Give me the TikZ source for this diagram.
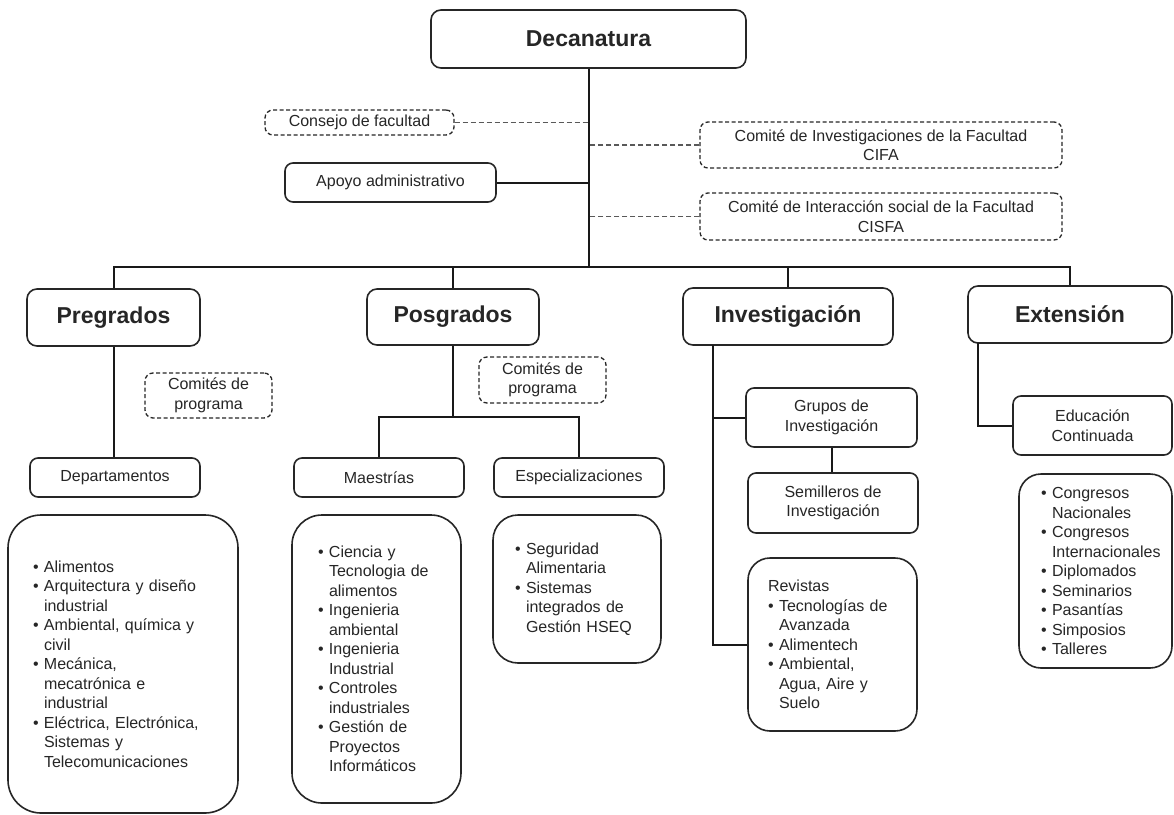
\documentclass[tikz,border=0pt]{standalone}
\usepackage{fontspec}
\setmainfont{Liberation Sans}
\tikzset{
  unitbox/.style={draw=black!85, line width=1.6pt, rounded corners=8pt, fill=white,
    align=center, inner sep=0pt, text=black!85, font=\fontsize{16}{19.5}\selectfont},
  titlebox/.style={unitbox, rounded corners=10pt, font=\fontsize{23}{27}\selectfont\bfseries},
  dashbox/.style={unitbox, line width=1.3pt, dash pattern=on 4pt off 2.5pt},
  listbox/.style={unitbox, rounded corners=25pt, align=left},
  link/.style={line width=2pt, black!90},
  dashline/.style={line width=1.3pt, black!65, dash pattern=on 5pt off 3pt},
}
\newcommand{\bu}{\makebox[11pt][l]{\textbullet}}
\newcommand{\ct}{\hspace*{11pt}}

\begin{document}
\begin{tikzpicture}[x=1pt,y=-1pt]
  \useasboundingbox (0,0) rectangle (1174,814);
  % top level
  \node[titlebox, minimum width=315, minimum height=58] (deca) at (588.5,39) {Decanatura};
  \node[dashbox, minimum width=189, minimum height=25] (consejo) at (359.5,122.5) {Consejo de facultad};
  \node[unitbox, minimum width=211, minimum height=39] (apoyo) at (390.5,182.5) {Apoyo administrativo};
  \node[dashbox, minimum width=362, minimum height=46] (cifa) at (881,145)
    {Comité de Investigaciones de la Facultad\\CIFA};
  \node[dashbox, minimum width=362, minimum height=47] (cisfa) at (881,216.5)
    {Comité de Interacción social de la Facultad\\CISFA};
  \coordinate (bus) at (588.5,267);
  \draw[link] (deca.south) -- (bus);
  \draw[dashline] (consejo.east) -- (consejo.east -| deca.south);
  \draw[link] (apoyo.east) -- (apoyo.east -| deca.south);
  \draw[dashline] (cifa.west) -- (cifa.west -| deca.south);
  \draw[dashline] (cisfa.west) -- (cisfa.west -| deca.south);

  % the four areas
  \node[titlebox, minimum width=173, minimum height=57] (pre) at (113.5,317.5) {Pregrados};
  \node[titlebox, minimum width=172, minimum height=56] (pos) at (453,317) {Posgrados};
  \node[titlebox, minimum width=210, minimum height=57] (inv) at (788,316.5) {Investigación};
  \node[titlebox, minimum width=204, minimum height=57] (ext) at (1070,314.5) {Extensión};
  \draw[link] (pre.north) |- (bus) -| (ext.north);
  \draw[link] (pos.north) -- (pos.north |- bus);
  \draw[link] (inv.north) -- (inv.north |- bus);

  % Pregrados
  \node[dashbox, minimum width=127, minimum height=45] (compre) at (208.5,395.5) {Comités de\\programa};
  \node[unitbox, minimum width=170, minimum height=39] (dep) at (115,477.5) {Departamentos};
  \draw[link] (pre.south) -- (pre.south |- dep.north);
  \node[listbox, rounded corners=33pt, minimum height=298, inner xsep=25, text width=180]
    (lpre) at (123,664) {\bu Alimentos\\
    \bu Arquitectura y diseño\\ \ct industrial\\
    \bu Ambiental, química y\\ \ct civil\\
    \bu Mecánica,\\ \ct mecatrónica e\\ \ct industrial\\
    \bu Eléctrica, Electrónica,\\ \ct Sistemas y\\ \ct Telecomunicaciones};

  % Posgrados
  \node[dashbox, minimum width=127, minimum height=46] (compos) at (542.5,380) {Comités de\\programa};
  \node[unitbox, minimum width=170, minimum height=39] (mae) at (379,477.5) {Maestrías};
  \node[unitbox, minimum width=170, minimum height=39] (esp) at (579,477.5) {Especializaciones};
  \coordinate (posj) at (453,417);
  \draw[link] (pos.south) -- (posj);
  \draw[link] (mae.north) |- (posj) -| (esp.north);
  \node[listbox, rounded corners=30pt, minimum height=288, inner xsep=26, text width=117]
    (lmae) at (376.5,659) {\bu Ciencia y\\ \ct Tecnologia de\\ \ct alimentos\\
    \bu Ingenieria\\ \ct ambiental\\
    \bu Ingenieria\\ \ct Industrial\\
    \bu Controles\\ \ct industriales\\
    \bu Gestión de\\ \ct Proyectos\\ \ct Informáticos};
  \node[listbox, minimum height=148, inner xsep=22, text width=124]
    (lesp) at (577,589) {\bu Seguridad\\ \ct Alimentaria\\
    \bu Sistemas\\ \ct integrados de\\ \ct Gestión HSEQ};

  % Investigacion
  \node[unitbox, minimum width=171, minimum height=59] (grupos) at (831.5,417.5) {Grupos de\\Investigación};
  \node[unitbox, minimum width=170, minimum height=60] (semi) at (833,503) {Semilleros de\\Investigación};
  \node[listbox, rounded corners=22pt, minimum height=173, inner xsep=20, text width=129]
    (lrev) at (832.5,644.5) {Revistas\\
    \bu Tecnologías de\\ \ct Avanzada\\
    \bu Alimentech\\
    \bu Ambiental,\\ \ct Agua, Aire y\\ \ct Suelo};
  \coordinate (invl) at (713,345);
  \draw[link] (invl) |- (lrev.west);
  \draw[link] (invl |- grupos.west) -- (grupos.west);
  \draw[link] (grupos.south) -- (grupos.south |- semi.north);

  % Extension
  \node[unitbox, minimum width=159, minimum height=59] (educ) at (1092.5,425.5) {Educación\\Continuada};
  \node[listbox, rounded corners=22pt, minimum height=194, inner xsep=22, text width=109]
    (lext) at (1095.5,571) {\bu Congresos\\ \ct Nacionales\\
    \bu Congresos\\ \ct \mbox{Internacionales}\\
    \bu Diplomados\\ \bu Seminarios\\ \bu Pasantías\\ \bu Simposios\\ \bu Talleres};
  \coordinate (extl) at (978,343);
  \draw[link] (extl) |- (educ.west);
\end{tikzpicture}
\end{document}
